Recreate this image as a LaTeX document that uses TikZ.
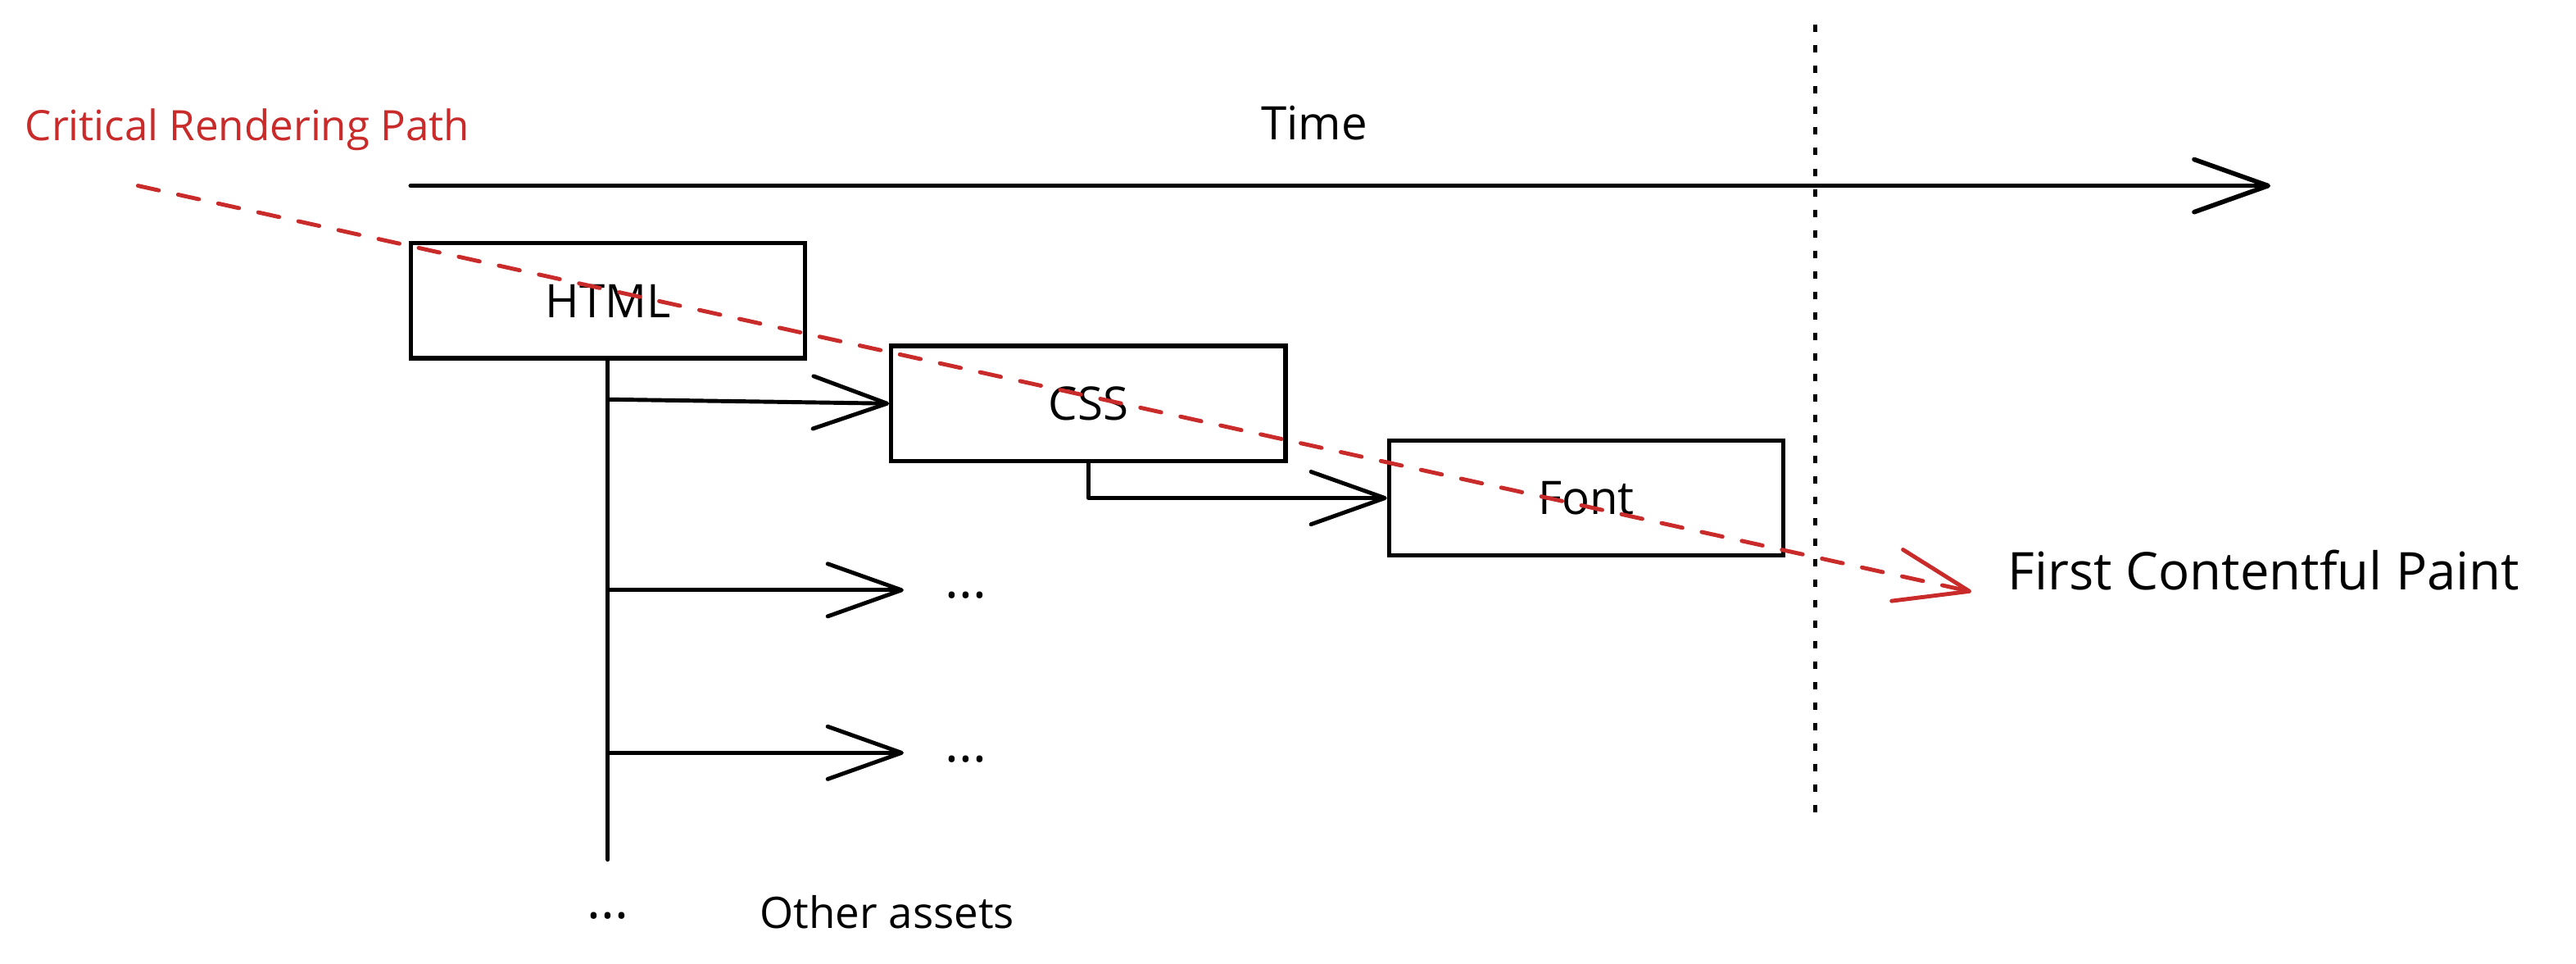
\documentclass[tikz,border=0pt]{standalone}
\usepackage{fontspec}
\setmainfont{Open Sans}
\usetikzlibrary{arrows.meta}
\definecolor{crpred}{RGB}{201,42,42}
\begin{document}
\begin{tikzpicture}[x=0.02cm, y=-0.02cm,
    stroke/.style={line width=1.4pt, line cap=round, line join=round},
    flow/.style={stroke, -{Straight Barb[length=0.9cm, width=0.64cm, round]}},
    task/.style={draw, line width=1.5pt, minimum width=4.8cm, minimum height=1.4cm, font=\fontsize{16}{19}\selectfont},
    lbl/.style={font=\fontsize{16}{19}\selectfont, inner sep=0pt},
  ]
  \useasboundingbox (0,0) rectangle (1568,586);
  % loading stages along the time axis
  \node[task] (html) at (370,183) {HTML};
  \node[task] (css) at (662.5,245.5) {CSS};
  \node[task] (font) at (965.5,303) {Font};
  % labels
  \node[lbl] (time) at (800,75) {Time};
  \node[lbl, anchor=west, text=crpred, font=\fontsize{14.5}{17}\selectfont] (crp) at (15,79) {Critical Rendering Path};
  \node[lbl, anchor=west, font=\fontsize{18}{21}\selectfont] (fcp) at (1222,347) {First Contentful Paint};
  \node[lbl, font=\fontsize{18}{21}\selectfont] (dots1) at (588,362) {...};
  \node[lbl, font=\fontsize{18}{21}\selectfont] (dots2) at (588,462) {...};
  \node[lbl, font=\fontsize{18}{21}\selectfont] (dots3) at (370,557) {...};
  \node[lbl, font=\fontsize{15}{18}\selectfont] (other) at (540,555) {Other assets};
  % time axis and paint marker
  \coordinate (t0) at (250,113);
  \coordinate (t1) at (1382,113);
  \draw[flow, line width=1.6pt] (t0) -- (t1);
  \coordinate (p0) at (1105,15);
  \coordinate (p1) at (1105,500);
  \draw[line width=1.3pt, dash pattern=on 0.09cm off 0.16cm] (p0) -- (p1);
  % requests started by the HTML
  \coordinate (trunk) at (370,523);
  \draw[stroke] (html.south) -- (trunk);
  \coordinate (b1) at (370,243);
  \coordinate (b2) at (370,359);
  \coordinate (b3) at (370,458);
  \draw[flow] (b1) -- (css.west);
  \draw[flow] (css.south) |- (font.west);
  \draw[flow, shorten >=0.5cm] (b2) -- (b2 -| dots1.west);
  \draw[flow, shorten >=0.5cm] (b3) -- (b3 -| dots2.west);
  % critical rendering path
  \coordinate (r0) at (84,113);
  \coordinate (r1) at (1200,360);
  \draw[flow, crpred, line width=1.4pt, dash pattern=on 0.26cm off 0.24cm] (r0) -- (r1);
\end{tikzpicture}
\end{document}
